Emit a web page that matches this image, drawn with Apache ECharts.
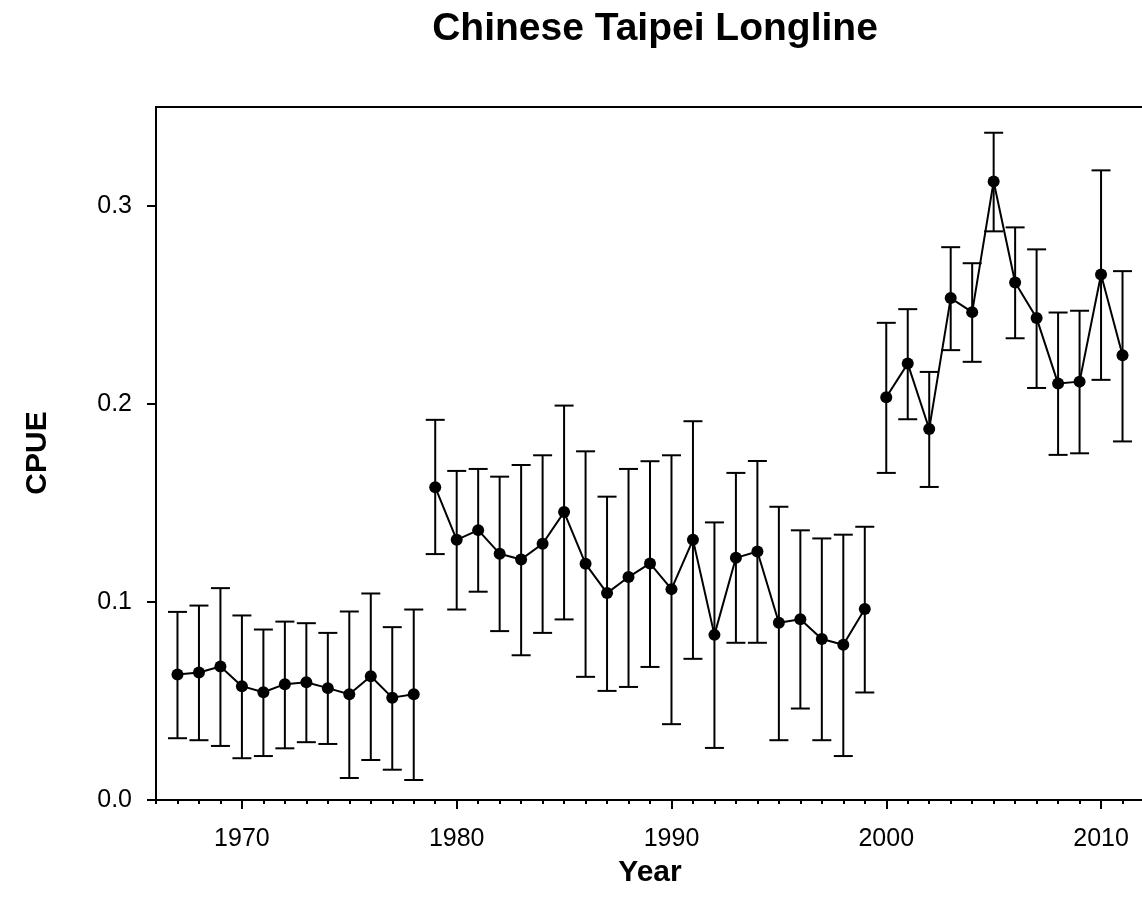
<!DOCTYPE html>
<html>
<head>
<meta charset="utf-8">
<title>Chinese Taipei Longline</title>
<script src="https://cdn.jsdelivr.net/npm/echarts@6/dist/echarts.min.js"></script>
<style>
  html, body { margin: 0; padding: 0; background: #fff; }
  #chart { width: 1142px; height: 905px; }
</style>
</head>
<body>
<div id="chart"></div>
<script>
// CPUE index by year
var years = [1967, 1968, 1969, 1970, 1971, 1972, 1973, 1974, 1975, 1976, 1977, 1978,
  1979, 1980, 1981, 1982, 1983, 1984, 1985, 1986, 1987, 1988, 1989, 1990, 1991, 1992, 1993, 1994, 1995, 1996, 1997, 1998, 1999,
  2000, 2001, 2002, 2003, 2004, 2005, 2006, 2007, 2008, 2009, 2010, 2011];
var cpue = [0.0634, 0.0644, 0.0674, 0.0575, 0.0544, 0.0585, 0.0595, 0.0565, 0.0534, 0.0625, 0.0517, 0.0534,
  0.158, 0.1314, 0.1363, 0.1244, 0.1215, 0.1294, 0.1454, 0.1193, 0.1045, 0.1126, 0.1195, 0.1065, 0.1314, 0.0834, 0.1223, 0.1255, 0.0895, 0.0913, 0.0813, 0.0784, 0.0965,
  0.2034, 0.2204, 0.1874, 0.2535, 0.2464, 0.3124, 0.2614, 0.2434, 0.2103, 0.2113, 0.2654, 0.2246];
var upper = [0.0950, 0.0982, 0.1070, 0.0932, 0.0861, 0.0901, 0.0893, 0.0844, 0.0952, 0.1043, 0.0873, 0.0962,
  0.192, 0.1662, 0.1672, 0.1633, 0.1692, 0.1741, 0.1992, 0.1761, 0.1532, 0.1672, 0.1711, 0.1741, 0.1913, 0.1402, 0.1652, 0.1712, 0.1481, 0.1362, 0.1321, 0.134, 0.138,
  0.241, 0.2479, 0.2162, 0.2792, 0.2711, 0.3370, 0.2892, 0.2781, 0.2462, 0.2471, 0.318, 0.2671];
var lower = [0.0312, 0.0302, 0.0273, 0.0211, 0.0222, 0.0261, 0.0292, 0.0283, 0.0111, 0.0202, 0.0153, 0.0101,
  0.1242, 0.0962, 0.1052, 0.0853, 0.0731, 0.0844, 0.0912, 0.0622, 0.0551, 0.0571, 0.0672, 0.0383, 0.0713, 0.0263, 0.0794, 0.0794, 0.0302, 0.0462, 0.0302, 0.0222, 0.0543,
  0.1652, 0.1923, 0.1581, 0.2272, 0.2213, 0.2872, 0.2332, 0.2081, 0.1743, 0.1751, 0.2122, 0.1811];

// the line is broken between these periods
var segments = [[1967, 1978], [1979, 1999], [2000, 2011]];

var xTicks = [1970, 1980, 1990, 2000, 2010];
var yTicks = [0, 0.1, 0.2, 0.3];

var font = 'Arial, "Liberation Sans", sans-serif';

function renderErrorBar(params, api) {
  var x = api.value(0);
  var hi = api.coord([x, api.value(1)]);
  var lo = api.coord([x, api.value(2)]);
  var half = 9.5;
  var style = { stroke: '#000', lineWidth: 2, fill: null };
  return {
    type: 'group',
    children: [
      { type: 'line', shape: { x1: hi[0], y1: hi[1], x2: lo[0], y2: lo[1] }, style: style },
      { type: 'line', shape: { x1: hi[0] - half, y1: hi[1], x2: hi[0] + half, y2: hi[1] }, style: style },
      { type: 'line', shape: { x1: lo[0] - half, y1: lo[1], x2: lo[0] + half, y2: lo[1] }, style: style }
    ]
  };
}

var series = [{
  type: 'custom',
  renderItem: renderErrorBar,
  data: years.map(function (y, i) { return [y, upper[i], lower[i]]; }),
  encode: { x: 0, y: [1, 2] },
  z: 2,
  silent: true
}];

segments.forEach(function (seg) {
  var pts = [];
  years.forEach(function (y, i) {
    if (y >= seg[0] && y <= seg[1]) pts.push([y, cpue[i]]);
  });
  series.push({
    type: 'line',
    data: pts,
    symbol: 'circle',
    symbolSize: 12,
    itemStyle: { color: '#000' },
    lineStyle: { color: '#000', width: 2 },
    z: 3,
    silent: true
  });
});

var chart = echarts.init(document.getElementById('chart'));
chart.setOption({
  animation: false,
  backgroundColor: '#fff',
  title: {
    text: 'Chinese Taipei Longline',
    left: 650,
    top: 5,
    textAlign: 'center',
    textStyle: { fontFamily: font, fontSize: 39, fontWeight: 'bold', color: '#000' }
  },
  grid: {
    left: 156, top: 107, right: -2, bottom: 105,
    show: true, borderColor: '#000', borderWidth: 2,
    containLabel: false, outerBoundsMode: 'none'
  },
  xAxis: [{
    type: 'value',
    min: 1966, max: 2012, interval: 1,
    axisLine: { lineStyle: { color: '#000', width: 2 } },
    axisTick: { length: 4, lineStyle: { color: '#000', width: 2 } },
    axisLabel: { show: false },
    splitLine: { show: false }
  }, {
    type: 'value',
    position: 'bottom',
    min: 1966, max: 2012,
    axisLine: { show: false },
    axisTick: { customValues: xTicks, length: 9, lineStyle: { color: '#000', width: 2 } },
    axisLabel: {
      customValues: xTicks, margin: 27,
      fontFamily: font, fontSize: 25, color: '#000',
      formatter: function (v) { return String(v); }
    },
    splitLine: { show: false }
  }],
  yAxis: {
    type: 'value',
    min: 0, max: 0.35,
    axisLine: { show: true, lineStyle: { color: '#000', width: 2 } },
    axisTick: { show: true, customValues: yTicks, length: 9, lineStyle: { color: '#000', width: 2 } },
    axisLabel: {
      customValues: yTicks, margin: 24,
      fontFamily: font, fontSize: 25, color: '#000',
      formatter: function (v) { return v.toFixed(1); }
    },
    splitLine: { show: false }
  },
  graphic: [{
    type: 'text',
    x: 650, y: 873,
    style: {
      text: 'Year', textAlign: 'center', textVerticalAlign: 'middle',
      fontFamily: font, fontSize: 30, fontWeight: 'bold', fill: '#000'
    }
  }, {
    type: 'text',
    x: 38, y: 453,
    rotation: Math.PI / 2,
    style: {
      text: 'CPUE', textAlign: 'center', textVerticalAlign: 'middle',
      fontFamily: font, fontSize: 30, fontWeight: 'bold', fill: '#000'
    }
  }],
  series: series
});
</script>
</body>
</html>
